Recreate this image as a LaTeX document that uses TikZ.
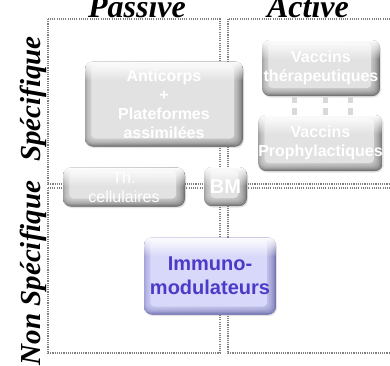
\documentclass[tikz,border=0pt]{standalone}
\usepackage{fontspec}
\usetikzlibrary{shadows,calc,fadings}
\newfontfamily\labsans{Liberation Sans}
\newfontfamily\labserif{Liberation Serif}
% gray bevel boxes
\definecolor{grL}{RGB}{150,150,150}
\definecolor{grM}{RGB}{226,226,226}
\definecolor{grR}{RGB}{92,92,92}
% lavender bevel box
\definecolor{lavL}{RGB}{150,150,210}
\definecolor{lavM}{RGB}{216,216,250}
\definecolor{lavR}{RGB}{98,98,165}
\definecolor{lavT}{RGB}{78,58,200}
% fadings for the gloss and the lower rim
\tikzfading[name=glossfade, top color=transparent!0, bottom color=transparent!100]
\tikzfading[name=rimfade, top color=transparent!100, bottom color=transparent!0]
\begin{document}
\begin{tikzpicture}[x=1pt,y=-1pt,
  quad/.style={draw=black!50, line width=1.4pt, dash pattern=on 1.1pt off 1.1pt},
  axislab/.style={font=\labserif\bfseries\itshape\fontsize{32pt}{32pt}\selectfont, inner sep=0pt, anchor=base},
  sidelab/.style={font=\labserif\bfseries\itshape\fontsize{29pt}{29pt}\selectfont, inner sep=0pt, anchor=base, rotate=90},
  gbox/.style={rounded corners=8pt, inner sep=0pt, align=center, text=white,
    drop shadow={opacity=0.22, shadow xshift=1pt, shadow yshift=-1.5pt},
    path picture={
      \coordinate (sw) at (path picture bounding box.south west);
      \coordinate (ne) at (path picture bounding box.north east);
      \shade[sharp corners, left color=#1L, right color=#1R] (sw) rectangle (ne);
      \fill[#1R, sharp corners, path fading=rimfade] (sw) rectangle ($(ne |- sw)+(0pt,10pt)$);
      \foreach \k in {0,...,7}
        \fill[#1M, opacity=0.17, rounded corners=5pt]
          ($(sw)+({0.8pt*\k},{1pt*\k})$) rectangle ($(ne)+({-1.1pt*\k},{-0.4pt*\k})$);
      \fill[#1M, rounded corners=4pt] ($(sw)+(6.4pt,8pt)$) rectangle ($(ne)+(-8.8pt,-3.2pt)$);
      \fill[white, sharp corners, path fading=glossfade] (sw |- ne) rectangle ($(ne)+(0pt,-19pt)$);
    }},
  gbox/.default=gr,
  txtb/.style={font=\labsans\bfseries\fontsize{16pt}{19pt}\selectfont},
  txtr/.style={font=\labsans\fontsize{16pt}{19pt}\selectfont},
  txtbig/.style={font=\labsans\bfseries\fontsize{20pt}{24pt}\selectfont},
  vdash/.style={draw=black!15, line width=5pt, dash pattern=on 7pt off 5pt},
]
\useasboundingbox (0,0) rectangle (390,365);
\clip (0,0) rectangle (390,365);
\fill[white] (0,0) rectangle (390,365);

% quadrant frames
\draw[quad] (48,19) rectangle (220,184);
\draw[quad] (228,19) rectangle (396,184);
\draw[quad] (48,188) rectangle (220,353);
\draw[quad] (228,188) rectangle (396,353);

% axis labels
\node[axislab] (passive) at (137,17) {Passive};
\node[axislab] (active) at (308,17) {Active};
\node[sidelab] (spec) at (40,99) {Spécifique};
\node[sidelab] (nonspec) at (40,273) {Non Spécifique};

% boxes
\node[gbox, txtb, minimum width=158pt, minimum height=85pt] (ab) at (164,104)
  {Anticorps\\+\\Plateformes\\assimilées};
\node[gbox, txtb, minimum width=118pt, minimum height=56pt] (vt) at (321,68)
  {Vaccins\\thérapeutiques};
\node[gbox, txtb, minimum width=123pt, minimum height=56pt] (vp) at (320.5,143)
  {Vaccins\\Prophylactiques};
\node[gbox, txtr, minimum width=122pt, minimum height=39pt] (tc) at (124,187)
  {Th.\\cellulaires};
\node[gbox, txtbig, minimum width=43pt, minimum height=39pt] (bm) at (225.5,186.5) {BM};
\node[gbox=lav, txtbig, text=lavT, minimum width=132pt, minimum height=77pt] (im) at (210,276)
  {Immuno-\\modulateurs};

% links between the two vaccine boxes
\foreach \dx in {33,64,89}
  \draw[vdash] ([xshift=\dx pt]vt.south west) -- ([xshift=\dx pt]vt.south west |- vp.north);
\end{tikzpicture}
\end{document}
